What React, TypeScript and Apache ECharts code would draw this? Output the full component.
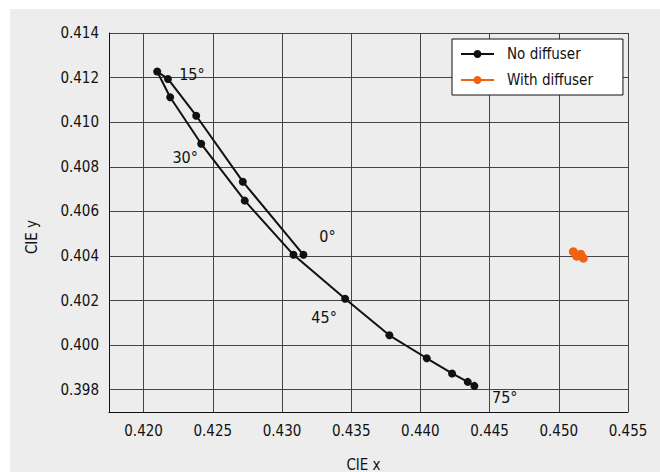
import React, { useEffect, useRef } from 'react';
import * as echarts from 'echarts';

// ---- data ----
const noDiffuserX = [0.43155, 0.42717, 0.4238, 0.42176, 0.42098, 0.42192, 0.42416, 0.42731, 0.43083, 0.43456, 0.43776, 0.44046, 0.44229, 0.44342, 0.4439];
const noDiffuserY = [0.40405, 0.40733, 0.41029, 0.41194, 0.41227, 0.41112, 0.40903, 0.40648, 0.40405, 0.40208, 0.40044, 0.39941, 0.39873, 0.39835, 0.39817];
const angleLabels = ['0°', '', '', '15°', '', '', '30°', '', '', '45°', '', '', '', '', '75°'];
const withDiffuserX = [0.45105, 0.45129, 0.45158, 0.45177];
const withDiffuserY = [0.40419, 0.40399, 0.40408, 0.4039];
const xTicks = [0.42, 0.425, 0.43, 0.435, 0.44, 0.445, 0.45, 0.455];
const yTicks = [0.398, 0.4, 0.402, 0.404, 0.406, 0.408, 0.41, 0.412, 0.414];
const seriesNames = ['No diffuser', 'With diffuser'];
const axisNames = ['CIE x', 'CIE y'];

// ---- styling (not data) ----
const FONT = "'DejaVu Sans Condensed', 'Liberation Sans Narrow', 'Liberation Sans', sans-serif";
const TXT = '#111111';
const labelOffsets: Record<string, [number, number]> = {
  '0°': [24, -18],
  '15°': [24, -4.5],
  '30°': [-16, 13.7],
  '45°': [-21, 18.7],
  '75°': [30.4, 12],
};

export default function App() {
  const ref = useRef<HTMLDivElement>(null);
  useEffect(() => {
    if (!ref.current) return;
    const chart = echarts.init(ref.current, undefined, { renderer: 'svg' });

    const blackData = noDiffuserX.map((x, i) => {
      const lbl = angleLabels[i];
      const item: any = { value: [x, noDiffuserY[i]] };
      if (lbl) {
        item.label = {
          show: true,
          formatter: lbl,
          position: 'inside',
          offset: labelOffsets[lbl] || [0, 0],
          color: TXT,
          fontSize: 16,
          fontFamily: FONT,
        };
      }
      return item;
    });
    const orangeData = withDiffuserX.map((x, i) => [x, withDiffuserY[i]]);

    chart.setOption({
      animation: false,
      backgroundColor: '#ffffff',
      textStyle: { fontFamily: FONT },
      graphic: [
        {
          type: 'rect',
          left: 10,
          top: 9,
          z: -100,
          silent: true,
          shape: { width: 650, height: 463 },
          style: { fill: '#ECEDEC' },
        },
      ],
      grid: { left: 109, right: 32, top: 33, bottom: 60, containLabel: false, outerBoundsMode: 'none' },
      legend: {
        left: 452,
        top: 39,
        orient: 'vertical',
        data: seriesNames,
        backgroundColor: '#ffffff',
        borderColor: '#111111',
        borderWidth: 1,
        borderRadius: 0,
        padding: [5, 30, 5, 8],
        itemGap: 6,
        itemWidth: 33,
        itemHeight: 10,
        textStyle: { fontSize: 15, color: TXT, fontFamily: FONT, padding: [0, 0, 0, 8], lineHeight: 20 },
      },
      xAxis: {
        type: 'value',
        min: 0.4175,
        max: 0.455,
        name: axisNames[0],
        nameLocation: 'middle',
        nameGap: 45,
        nameTextStyle: { fontSize: 15, color: TXT, fontFamily: FONT, padding: [0, 10, 0, 0] },
        axisLine: { show: true, onZero: false, lineStyle: { color: '#111111', width: 1 } },
        axisTick: { show: false, customValues: xTicks },
        axisLabel: {
          customValues: xTicks,
          formatter: (v: number) => v.toFixed(3),
          fontSize: 15,
          color: TXT,
          fontFamily: FONT,
          margin: 11,
        },
        splitLine: { show: true, lineStyle: { color: '#444444', width: 1 } },
      },
      yAxis: {
        type: 'value',
        min: 0.397,
        max: 0.414,
        name: axisNames[1],
        nameLocation: 'middle',
        nameGap: 70,
        nameRotate: 90,
        nameTextStyle: { fontSize: 15, color: TXT, fontFamily: FONT, padding: [0, 29, 0, 0] },
        axisLine: { show: true, onZero: false, lineStyle: { color: '#111111', width: 1 } },
        axisTick: { show: false, customValues: yTicks },
        axisLabel: {
          customValues: yTicks,
          formatter: (v: number) => v.toFixed(3),
          fontSize: 15,
          color: TXT,
          fontFamily: FONT,
          margin: 10,
        },
        splitLine: { show: true, lineStyle: { color: '#444444', width: 1 } },
      },
      series: [
        {
          name: seriesNames[0],
          type: 'line',
          data: blackData,
          symbol: 'circle',
          symbolSize: 8,
          showAllSymbol: true,
          lineStyle: { color: '#111111', width: 2 },
          itemStyle: { color: '#111111' },
          z: 3,
        },
        {
          name: seriesNames[1],
          type: 'line',
          data: orangeData,
          symbol: 'circle',
          symbolSize: 9,
          showAllSymbol: true,
          lineStyle: { color: '#F0620F', width: 2 },
          itemStyle: { color: '#F0620F' },
          z: 3,
        },
      ],
    });
    return () => chart.dispose();
  }, []);

  return (
    <div
      ref={ref}
      style={{ position: 'fixed', left: 0, top: 0, width: 660, height: 472 }}
    />
  );
}
